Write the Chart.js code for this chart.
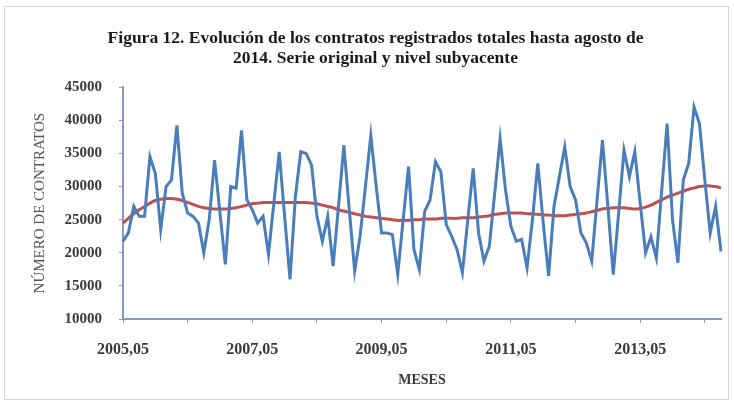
<!DOCTYPE html>
<html>
<head>
<meta charset="utf-8">
<script src="https://cdn.jsdelivr.net/npm/chart.js@4.4.1/dist/chart.umd.min.js"></script>
<style>
  html, body { margin: 0; padding: 0; background: #fff; }
  #wrap { width: 734px; height: 404px; }
</style>
</head>
<body>
<div id="wrap"><canvas id="chart" width="734" height="404"></canvas></div>
<script>
// =====================
// Data
// =====================
const startYear = 2005;
const startMonth = 5;

// Serie original (contratos registrados), mayo 2005 - agosto 2014
const serieOriginal = [
  21750, 23000, 27000, 25500, 25500, 34500, 32000, 23500, 30000, 31000, 39250, 29000,
  26000, 25500, 24500, 20000, 25000, 34000, 26000, 18250, 30000, 29750, 38500, 28000,
  26500, 24500, 25500, 19750, 27500, 35250, 25500, 16000, 28500, 35250, 35000, 33250,
  25500, 21750, 25500, 18000, 27000, 36250, 26500, 17250, 22500, 30000, 37750, 30000,
  23000, 23000, 22750, 16750, 25000, 33000, 20500, 17500, 26250, 28000, 33750, 32250,
  24250, 22500, 20500, 17000, 25000, 32750, 23000, 18750, 21000, 29000, 37250, 29500,
  24000, 21750, 22000, 17750, 25000, 33500, 24500, 16500, 27000, 31500, 36000, 30000,
  28000, 23000, 21500, 18750, 28000, 37000, 27000, 16700, 26000, 35500, 31500, 35300,
  27500, 20000, 22400, 19200, 29500, 39500, 25000, 18500, 31000, 33500, 42000, 39500,
  31000, 23000, 27000, 20200
];

// Nivel subyacente (tendencia)
const nivelSubyacente = [
  24500, 25200, 25900, 26500, 27000, 27500, 27900, 28100, 28200, 28200, 28100, 27900,
  27600, 27300, 27000, 26800, 26700, 26600, 26600, 26600, 26700, 26800, 27000, 27200,
  27400, 27500, 27600, 27600, 27600, 27600, 27600, 27600, 27600, 27600, 27600, 27500,
  27400, 27200, 27000, 26800, 26500, 26300, 26100, 25900, 25700, 25500, 25400, 25300,
  25200, 25100, 25000, 24900, 24900, 24900, 25000, 25000, 25100, 25100, 25100, 25200,
  25200, 25200, 25200, 25300, 25300, 25300, 25400, 25500, 25600, 25800, 25900, 26000,
  26000, 26000, 26000, 25900, 25900, 25800, 25700, 25700, 25600, 25600, 25600, 25700,
  25800, 25900, 26000, 26200, 26400, 26600, 26700, 26800, 26800, 26800, 26700, 26600,
  26700, 26900, 27200, 27600, 28000, 28400, 28700, 29000, 29300, 29600, 29800, 30000,
  30100, 30100, 30000, 29800
];

const yTicks = { min: 10000, max: 45000, step: 5000 };

// categories "2005,05" ... "2014,08"
const meses = [];
for (let i = 0; i < serieOriginal.length; i++) {
  const m = startMonth - 1 + i;
  const y = startYear + Math.floor(m / 12);
  const mm = (m % 12) + 1;
  meses.push(y + "," + String(mm).padStart(2, "0"));
}

// =====================
// Chart
// =====================
const axisColor = "#8697c2";
const textColor = "#3a3a3a";
const serif = "'Liberation Serif', 'Times New Roman', serif";

const frame = {
  id: "frame",
  beforeDraw(chart) {
    const c = chart.ctx;
    c.save();
    c.fillStyle = "#fff";
    c.fillRect(0, 0, chart.width, chart.height);
    c.strokeStyle = "#d6d6d6";
    c.lineWidth = 1;
    c.strokeRect(4.5, 6.5, 724, 393);
    c.restore();
  }
};

new Chart(document.getElementById("chart"), {
  type: "line",
  data: {
    labels: meses,
    datasets: [
      {
        label: "Serie original",
        data: serieOriginal,
        borderColor: "#4a7ebb",
        borderWidth: 3,
        pointRadius: 0,
        tension: 0
      },
      {
        label: "Nivel subyacente",
        data: nivelSubyacente,
        borderColor: "#c0504d",
        borderWidth: 3,
        pointRadius: 0,
        tension: 0.3
      }
    ]
  },
  options: {
    responsive: false,
    animation: false,
    layout: { padding: { left: 30, right: 13, top: 0, bottom: 0 } },
    plugins: {
      legend: { display: false },
      tooltip: { enabled: false },
      title: {
        display: true,
        text: [
          "Figura 12. Evolución de los contratos registrados totales hasta agosto de",
          "2014. Serie original y nivel subyacente"
        ],
        color: "#1a1a1a",
        font: { family: serif, size: 17.5, weight: "bold", lineHeight: 1.15 },
        padding: { top: 28, bottom: 19 }
      }
    },
    scales: {
      x: {
        offset: false,
        afterFit: scale => { scale.height = 85; },
        grid: { drawOnChartArea: false, drawTicks: true, tickLength: 4, color: axisColor },
        border: { color: axisColor, width: 2 },
        ticks: {
          autoSkip: false,
          maxRotation: 0,
          padding: 17,
          color: textColor,
          font: { family: serif, size: 16, weight: "bold" },
          callback: function (value, index) {
            if (index % 24 === 0) return meses[index];
            if (index % 12 === 0) return "";
            return null;
          }
        },
        title: {
          display: true,
          text: "MESES",
          color: textColor,
          font: { family: serif, size: 14, weight: "bold" },
          padding: { top: 0, bottom: 15 }
        }
      },
      y: {
        min: yTicks.min,
        max: yTicks.max,
        afterFit: scale => { scale.width = 93; },
        grid: { drawOnChartArea: false, drawTicks: true, tickLength: 4, color: axisColor },
        border: { color: axisColor, width: 2 },
        ticks: {
          stepSize: yTicks.step,
          padding: 17,
          color: textColor,
          font: { family: serif, size: 15, weight: "bold" },
          callback: value => String(value)
        },
        title: {
          display: true,
          text: "NÚMERO DE CONTRATOS",
          color: "#555",
          font: { family: serif, size: 15, lineHeight: 1.2 },
          padding: { top: 1, bottom: 0 }
        }
      }
    }
  },
  plugins: [frame]
});
</script>
</body>
</html>
